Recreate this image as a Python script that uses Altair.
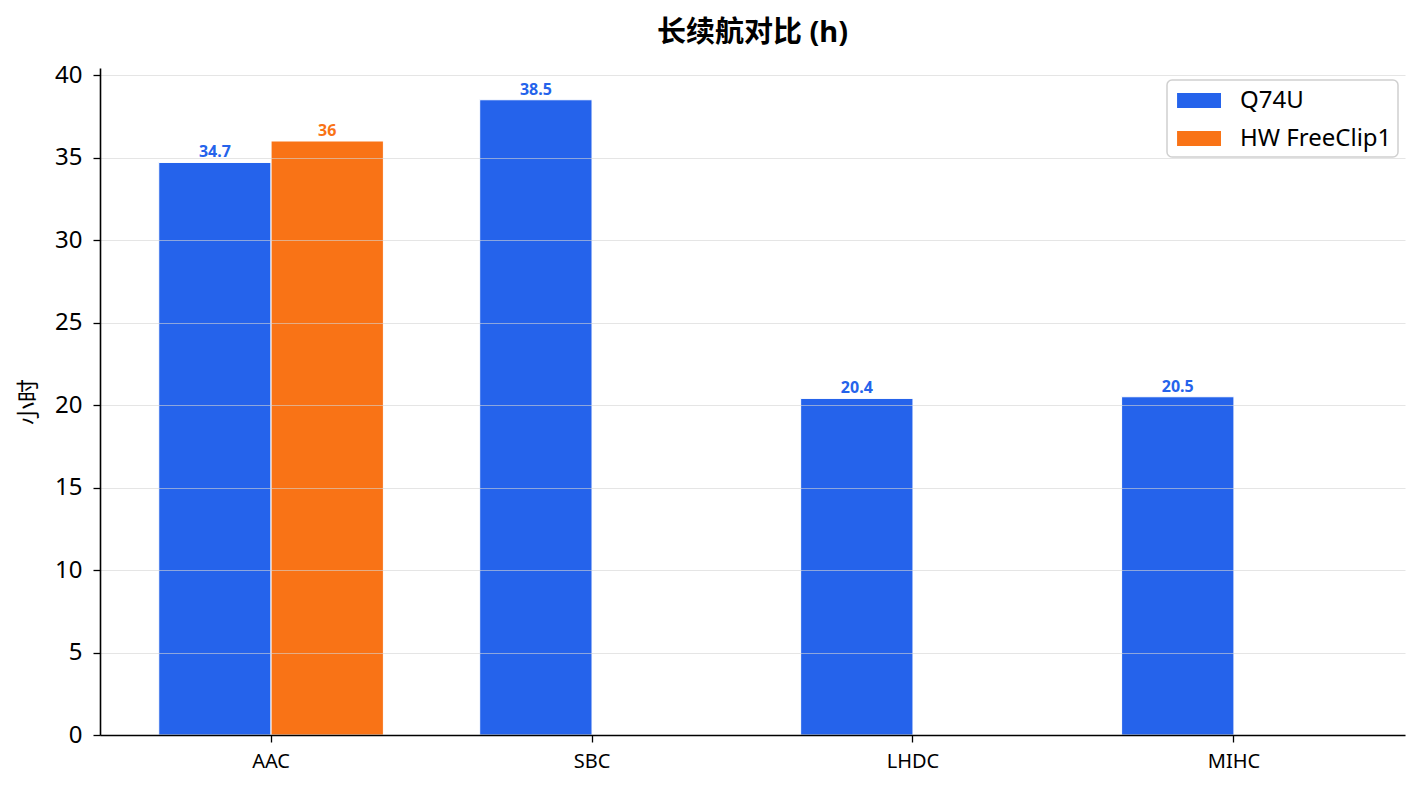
import altair as alt
import pandas as pd

categories = ["AAC", "SBC", "LHDC", "MIHC"]
series_names = ["Q74U", "HW FreeClip1"]
q74u_values = [34.7, 38.5, 20.4, 20.5]
hw_values = [36, None, None, None]
colors = ["#2563EB", "#F97316"]
y_ticks = [0, 5, 10, 15, 20, 25, 30, 35, 40]

rows = []
for c, v in zip(categories, q74u_values):
    if v is not None:
        rows.append({"codec": c, "device": series_names[0], "hours": v})
for c, v in zip(categories, hw_values):
    if v is not None:
        rows.append({"codec": c, "device": series_names[1], "hours": v})
df = pd.DataFrame(rows)

FONT = "'Noto Sans', 'Noto Sans CJK SC', sans-serif"

x_enc = alt.X("codec:N", sort=categories,
              scale=alt.Scale(paddingInner=0.3, paddingOuter=0.183),
              axis=alt.Axis(title=None, labelAngle=0, labelFontSize=20, labelColor="#000",
                            labelFont=FONT, domainColor="#000", domainWidth=1.6,
                            tickColor="#000", tickSize=7, tickWidth=1.3, labelPadding=9,
                            zindex=2))
xo_enc = alt.XOffset("device:N", sort=series_names,
                     scale=alt.Scale(domain=series_names, paddingInner=0))
y_scale = alt.Scale(domain=[0, 40.425], nice=False, zero=True)
color_scale = alt.Scale(domain=series_names, range=colors)

bars = alt.Chart(df).mark_bar(stroke="white", strokeWidth=1).encode(
    x=x_enc,
    xOffset=xo_enc,
    y=alt.Y("hours:Q", scale=y_scale,
            axis=alt.Axis(title="小时", titleFontSize=23, titleFont=FONT, titleFontWeight="normal",
                          titleColor="#000", titlePadding=14,
                          values=y_ticks, labelFontSize=24, labelFont=FONT, labelColor="#000",
                          domainColor="#000", domainWidth=1.6, tickColor="#000", tickSize=7,
                          tickWidth=1.3, labelPadding=11,
                          grid=True, gridColor="#d4d4d4", gridOpacity=0.6, gridWidth=1,
                          zindex=1)),
    color=alt.Color("device:N", sort=series_names, scale=color_scale,
                    legend=alt.Legend(title=None, orient="none", legendX=1067, legendY=12,
                                      symbolType="M-0.72,-0.52L2.31,-0.52L2.31,0.52L-0.72,0.52Z",
                                      symbolSize=841, symbolStrokeWidth=0,
                                      labelFontSize=24, labelFont=FONT, labelColor="#000",
                                      labelOffset=38, rowPadding=11, padding=6,
                                      strokeColor="#d0d0d0", cornerRadius=5,
                                      fillColor="white")),
)

labels = alt.Chart(df).mark_text(baseline="alphabetic", dy=-5, fontSize=16, fontWeight="bold",
                                 font=FONT).encode(
    x=alt.X("codec:N", sort=categories),
    xOffset=xo_enc,
    y=alt.Y("hours:Q", scale=y_scale),
    text=alt.Text("hours:Q"),
    color=alt.Color("device:N", sort=series_names, scale=color_scale, legend=None),
)

chart = alt.layer(bars, labels).properties(
    width=1305, height=667,
    background="white",
    title=alt.Title("长续航对比 (h)", fontSize=29, font=FONT, fontWeight="bold", color="#000",
                    anchor="middle", offset=15),
    autosize=alt.AutoSizeParams(type="none"),
    padding={"left": 92, "top": 60, "right": 10, "bottom": 40},
).configure_view(stroke="transparent", strokeWidth=0).configure_legend(
    strokeWidth=1.5
)

chart.save("out.html", embed_options={"renderer": "svg", "actions": False})
